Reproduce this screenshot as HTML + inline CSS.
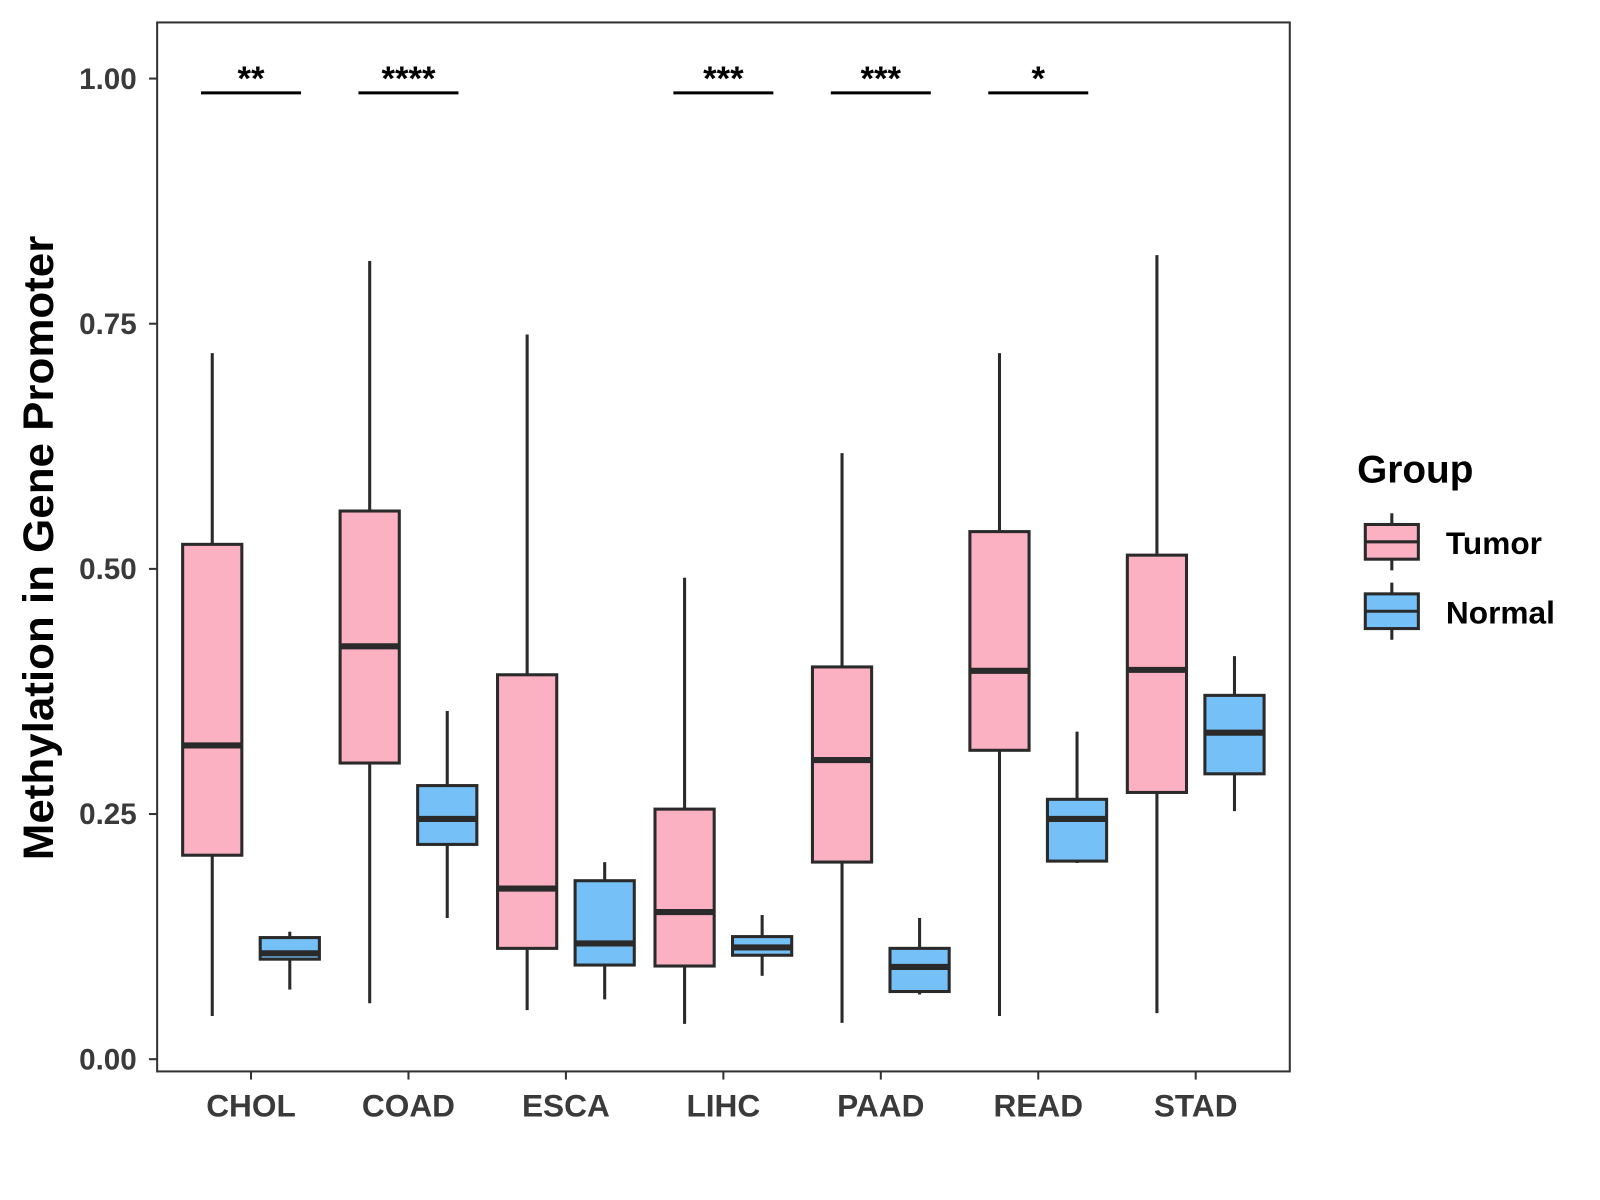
<!DOCTYPE html>
<html><head><meta charset="utf-8"><style>
body{margin:0;background:#fff;}
svg{display:block;font-family:"Liberation Sans",Arial,sans-serif;}
</style></head><body>
<svg id="chart" width="1600" height="1200" viewBox="0 0 1600 1200" xmlns="http://www.w3.org/2000/svg">
<g transform="scale(1.0204)">
<rect x="154" y="22" width="1110" height="1028" fill="#fff" stroke="#333" stroke-width="2"/>
<g id="yaxis"></g>
<g id="xaxis"></g>
<g id="marks"></g>
<g id="sig"></g>
<text transform="translate(52,537) rotate(-90)" text-anchor="middle" font-size="42" font-weight="bold" fill="#000" textLength="612" lengthAdjust="spacingAndGlyphs">Methylation in Gene Promoter</text>
<g>
<text x="1330" y="473" font-size="38" font-weight="bold" fill="#000">Group</text>
<g>
<line x1="1364" y1="503" x2="1364" y2="559" stroke="#2a2a2a" stroke-width="3"/>
<rect x="1338" y="514" width="52" height="34" fill="#FCB1C3" stroke="#2a2a2a" stroke-width="3"/>
<line x1="1338" y1="531" x2="1390" y2="531" stroke="#2a2a2a" stroke-width="3"/>
<text x="1417" y="543" font-size="31" font-weight="bold" fill="#000">Tumor</text>
</g>
<g>
<line x1="1364" y1="571" x2="1364" y2="627" stroke="#2a2a2a" stroke-width="3"/>
<rect x="1338" y="582" width="52" height="34" fill="#75C1F7" stroke="#2a2a2a" stroke-width="3"/>
<line x1="1338" y1="599" x2="1390" y2="599" stroke="#2a2a2a" stroke-width="3"/>
<text x="1417" y="611" font-size="31" font-weight="bold" fill="#000">Normal</text>
</g>
</g>
</g>
</svg>
<script>
const categories = ["CHOL","COAD","ESCA","LIHC","PAAD","READ","STAD"];
// [lowerWhisker, q1, median, q3, upperWhisker]
const tumorStats = [
 [0.044,0.208,0.32,0.525,0.72],
 [0.057,0.302,0.421,0.559,0.814],
 [0.05,0.113,0.174,0.392,0.739],
 [0.036,0.095,0.15,0.255,0.491],
 [0.037,0.201,0.305,0.4,0.618],
 [0.044,0.315,0.396,0.538,0.72],
 [0.047,0.272,0.397,0.514,0.82]
];
const normalStats = [
 [0.071,0.102,0.108,0.124,0.13],
 [0.144,0.219,0.245,0.279,0.355],
 [0.061,0.096,0.118,0.182,0.201],
 [0.085,0.106,0.114,0.125,0.147],
 [0.066,0.069,0.094,0.113,0.144],
 [0.2,0.202,0.245,0.265,0.334],
 [0.253,0.291,0.333,0.371,0.411]
];
const significance = ["**","****","","***","***","*",""];
const yTicks = [0,0.25,0.5,0.75,1.0];
const yTickLabels = ["0.00","0.25","0.50","0.75","1.00"];

const NS="http://www.w3.org/2000/svg";
function y(v){return 1038-v*961;}
function x(i){return 246+i*154.3;}
function mk(tag,attrs,parent){const e=document.createElementNS(NS,tag);for(const k in attrs)e.setAttribute(k,attrs[k]);parent.appendChild(e);return e;}

const ya=document.getElementById('yaxis');
yTicks.forEach((t,i)=>{
 const l=mk('line',{x1:146,x2:154,y1:y(t),y2:y(t),stroke:'#333','stroke-width':2},ya);
 
 
 const tx=mk('text',{x:134,y:y(t)+10,'text-anchor':'end','font-size':29,'font-weight':'bold',fill:'#3a3a3a'},ya);
 tx.textContent=yTickLabels[i];
 
 
});
const xa=document.getElementById('xaxis');
categories.forEach((c,i)=>{
 const l=mk('line',{x1:x(i),x2:x(i),y1:1050,y2:1058,stroke:'#333','stroke-width':2},xa);
 
 
 const tx=mk('text',{x:x(i),y:1094,'text-anchor':'middle','font-size':31,'font-weight':'bold',fill:'#3a3a3a'},xa);
 tx.textContent=c;
 
 
});
const mg=document.getElementById('marks');
function box(s,cx,fill,name){
 const g=mk('g',{},mg);
 
 
 mk('line',{x1:cx,x2:cx,y1:y(s[0]),y2:y(s[4]),stroke:'#2a2a2a','stroke-width':3},g);
 mk('rect',{x:cx-29,y:y(s[3]),width:58,height:y(s[1])-y(s[3]),fill:fill,stroke:'#2a2a2a','stroke-width':3},g);
 mk('line',{x1:cx-29,x2:cx+29,y1:y(s[2]),y2:y(s[2]),stroke:'#2a2a2a','stroke-width':6},g);
}
categories.forEach((c,i)=>{
 box(tumorStats[i],x(i)-38,'#FCB1C3','box-tumor-'+c.toLowerCase());
 box(normalStats[i],x(i)+38,'#75C1F7','box-normal-'+c.toLowerCase());
});
const sg=document.getElementById('sig');
significance.forEach((s,i)=>{
 if(!s)return;
 const l=mk('line',{x1:x(i)-49,x2:x(i)+49,y1:91,y2:91,stroke:'#000','stroke-width':3},sg);
 
 
 const t=mk('text',{x:x(i),y:88,'text-anchor':'middle','font-size':34,'font-weight':'bold',fill:'#000'},sg);
 t.textContent=s;
 
 
});
</script>
</body></html>
